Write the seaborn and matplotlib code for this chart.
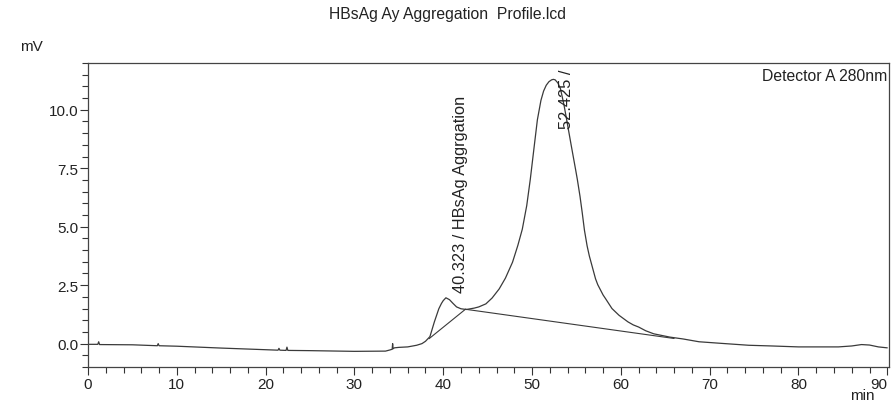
import matplotlib
matplotlib.use('Agg')
import matplotlib.pyplot as plt
from matplotlib.ticker import MultipleLocator, FormatStrFormatter
import seaborn as sns
import pandas as pd

# Chromatogram trace (min, mV)
time_min = [0.0, 1.1, 1.2, 1.3, 5.0, 7.8, 7.9, 8.0, 10.0, 15.0, 20.0, 21.4, 21.5, 21.6,
            22.3, 22.4, 22.5, 25.0, 30.0, 33.5, 34.0, 34.25, 34.3, 34.35, 34.5, 35.0,
            36.0, 37.0, 37.6, 38.0, 38.5, 39.0, 39.5, 39.8, 40.0, 40.3, 40.7, 41.1, 41.5,
            42.0, 42.6, 43.5, 44.0, 44.8, 45.5, 46.3, 47.0, 47.8, 48.4, 48.9, 49.4, 49.8,
            50.2, 50.6, 51.0, 51.3, 51.6, 51.9, 52.2, 52.4, 52.6, 52.9, 53.2, 53.6, 53.9,
            54.4, 54.9, 55.1, 55.4, 55.65, 55.9, 56.2, 56.45, 56.7, 56.95, 57.15, 57.4,
            57.7, 58.0, 58.3, 59.0, 59.8, 60.8, 61.4, 62.0, 62.8, 63.7, 65.5, 67.0, 68.8,
            71.0, 74.4, 77.0, 80.0, 84.5, 86.0, 87.1, 88.0, 89.0, 90.0]
signal_mv = [-0.03, -0.03, 0.08, -0.04, -0.05, -0.09, 0.0, -0.09, -0.11, -0.19, -0.26,
             -0.28, -0.2, -0.28, -0.29, -0.15, -0.29, -0.30, -0.33, -0.32, -0.27, -0.24,
             0.0, -0.22, -0.18, -0.16, -0.14, -0.07, 0.0, 0.10, 0.30, 0.93, 1.49, 1.72,
             1.84, 1.96, 1.88, 1.72, 1.57, 1.49, 1.46, 1.52, 1.57, 1.70, 1.95, 2.34, 2.80,
             3.48, 4.20, 4.89, 5.90, 7.02, 8.30, 9.57, 10.40, 10.80, 11.05, 11.20, 11.28,
             11.30, 11.28, 11.15, 10.90, 10.20, 9.57, 8.50, 7.45, 7.02, 6.30, 5.60, 4.85,
             4.18, 3.75, 3.40, 3.05, 2.77, 2.52, 2.30, 2.08, 1.91, 1.50, 1.21, 0.93, 0.80,
             0.71, 0.55, 0.42, 0.28, 0.20, 0.08, 0.02, -0.07, -0.10, -0.14, -0.14, -0.10,
             -0.04, -0.06, -0.14, -0.18]

# Integration baselines
base1_t = [38.4, 42.5]
base1_v = [0.21, 1.47]
base2_t = [42.5, 66.0]
base2_v = [1.47, 0.22]

# Peak labels
peak_labels = ['40.323 / HBsAg Aggrgation', '52.425 /']
label_t = [41.9, 53.9]
label_v = [2.2, 9.2]

sns.set_style('ticks')
plt.rcParams['font.family'] = ['Liberation Sans', 'DejaVu Sans']

fig = plt.figure(figsize=(8.91, 4.10), dpi=100)
ax = fig.add_axes([0.0988, 0.1024, 0.899, 0.7415])

line_color = '#3a3a3a'
trace = pd.DataFrame({'t': time_min, 'v': signal_mv})
sns.lineplot(data=trace, x='t', y='v', ax=ax, color=line_color, linewidth=0.9,
             sort=False, estimator=None)
sns.lineplot(x=base1_t, y=base1_v, ax=ax, color=line_color, linewidth=0.8, estimator=None)
sns.lineplot(x=base2_t, y=base2_v, ax=ax, color=line_color, linewidth=0.8, estimator=None)

for txt, t, v in zip(peak_labels, label_t, label_v):
    ax.text(t, v, txt, rotation=90, ha='center', va='bottom', fontsize=11.8,
            color='#222222', clip_on=False)

ax.set_xlim(0, 90.2)
ax.set_ylim(-1.0, 12.0)
ax.xaxis.set_major_locator(MultipleLocator(10))
ax.xaxis.set_minor_locator(MultipleLocator(2))
ax.yaxis.set_major_locator(MultipleLocator(2.5))
ax.yaxis.set_minor_locator(MultipleLocator(0.5))
ax.yaxis.set_major_formatter(FormatStrFormatter('%.1f'))
ax.tick_params(which='major', length=6, width=0.8, colors='#333333', labelsize=11,
               labelcolor='#222222', pad=1)
ax.tick_params(which='minor', length=4, width=0.8, colors='#333333')
for s in ax.spines.values():
    s.set_color('#444444')
    s.set_linewidth(0.9)
ax.set_xlabel('')
ax.set_ylabel('')

# keep the last x tick label inside the figure
fig.canvas.draw()
xlabels = ax.get_xticklabels()
xlabels[-1].set_horizontalalignment('right')
for lab in xlabels:
    if lab.get_text() == '90':
        lab.set_horizontalalignment('right')

ax.text(0.998, 0.985, 'Detector A 280nm', transform=ax.transAxes, ha='right', va='top',
        fontsize=11.3, color='#222222')
fig.text(0.502, 0.965, 'HBsAg Ay Aggregation  Profile.lcd', ha='center', va='center',
         fontsize=11.3, color='#222222')
fig.text(0.0225, 0.885, 'mV', ha='left', va='center', fontsize=11, color='#222222')
fig.text(0.982, 0.035, 'min', ha='right', va='center', fontsize=11, color='#222222')

fig.savefig('out.png', dpi=100)
